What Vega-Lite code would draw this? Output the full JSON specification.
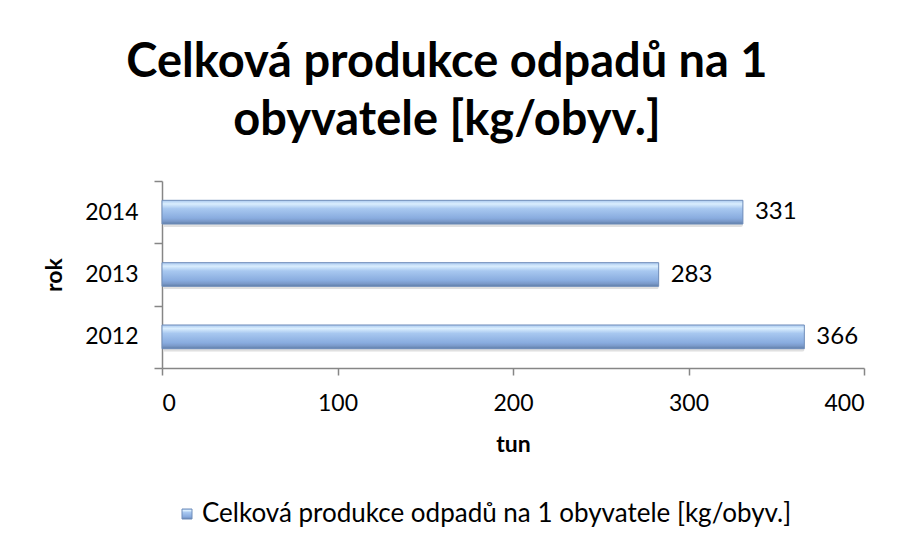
{
  "$schema": "https://vega.github.io/schema/vega-lite/v6.json",
  "width": 702,
  "height": 187,
  "autosize": {"type": "none"},
  "padding": {"left": 162, "top": 181, "right": 35, "bottom": 178},
  "background": "white",
  "config": {"view": {"stroke": null}},
  "data": {
    "values": [
      {"rok": "2014", "hodnota": 331, "serie": "Celková produkce odpadů na 1 obyvatele [kg/obyv.]"},
      {"rok": "2013", "hodnota": 283, "serie": "Celková produkce odpadů na 1 obyvatele [kg/obyv.]"},
      {"rok": "2012", "hodnota": 366, "serie": "Celková produkce odpadů na 1 obyvatele [kg/obyv.]"}
    ]
  },
  "title": {
    "text": ["Celková produkce odpadů na 1", "obyvatele [kg/obyv.]"],
    "font": "Lato",
    "fontSize": 47,
    "fontWeight": "bold",
    "color": "black",
    "lineHeight": 58,
    "anchor": "middle",
    "dx": -66,
    "offset": 25
  },
  "encoding": {
    "y": {
      "field": "rok",
      "type": "nominal",
      "sort": ["2014", "2013", "2012"],
      "scale": {"paddingInner": 0, "paddingOuter": 0},
      "axis": {
        "title": "rok",
        "titleFont": "Lato",
        "titleFontSize": 23,
        "titleFontWeight": "bold",
        "titleColor": "black",
        "titlePadding": 18,
        "labelFont": "Lato",
        "labelFontSize": 23,
        "labelColor": "black",
        "labelPadding": 16,
        "tickBand": "extent",
        "tickSize": 8,
        "tickColor": "#868686",
        "domainColor": "#868686",
        "domainWidth": 1.5,
        "tickWidth": 1.5
      }
    },
    "x": {
      "field": "hodnota",
      "type": "quantitative",
      "scale": {"domain": [0, 400], "nice": false},
      "axis": {
        "title": "tun",
        "titleFont": "Lato",
        "titleFontSize": 23,
        "titleFontWeight": "bold",
        "titleColor": "black",
        "titlePadding": 18,
        "values": [0, 100, 200, 300, 400],
        "labelFont": "Lato",
        "labelFontSize": 23,
        "labelColor": "black",
        "labelPadding": 17,
        "grid": false,
        "tickSize": 7,
        "tickColor": "#868686",
        "domainColor": "#868686",
        "domainWidth": 1.5,
        "tickWidth": 1.5
      }
    }
  },
  "layer": [
    {
      "mark": {"type": "bar", "height": {"band": 0.38}, "fill": "#000000", "opacity": 0.12, "yOffset": 3, "xOffset": 2, "cornerRadius": 2}
    },
    {
      "mark": {"type": "bar", "height": {"band": 0.38}, "strokeWidth": 1},
      "encoding": {
        "fill": {
          "value": {
            "gradient": "linear",
            "x1": 0, "y1": 0, "x2": 0, "y2": 1,
            "stops": [
              {"offset": 0, "color": "#a9c8ef"},
              {"offset": 0.15, "color": "#daeefe"},
              {"offset": 0.35, "color": "#a8c8f0"},
              {"offset": 0.75, "color": "#89acdf"},
              {"offset": 0.88, "color": "#7b9aca"},
              {"offset": 1, "color": "#5f7ea8"}
            ]
          }
        },
        "stroke": {
          "field": "serie",
          "type": "nominal",
          "scale": {"range": ["#6f8dba"]},
          "legend": {
            "title": null,
            "orient": "none",
            "legendX": 12,
            "legendY": 320,
            "symbolType": "square",
            "symbolSize": 100,
            "symbolFillColor": "#95b7e4",
            "symbolStrokeWidth": 1,
            "labelFont": "Lato",
            "labelFontSize": 26,
            "labelColor": "black",
            "labelOffset": 2,
            "labelLimit": 800
          }
        }
      }
    },
    {
      "mark": {"type": "text", "align": "left", "baseline": "middle", "dx": 12, "font": "Lato", "fontSize": 24, "color": "black"},
      "encoding": {"text": {"field": "hodnota", "type": "quantitative"}}
    }
  ]
}
